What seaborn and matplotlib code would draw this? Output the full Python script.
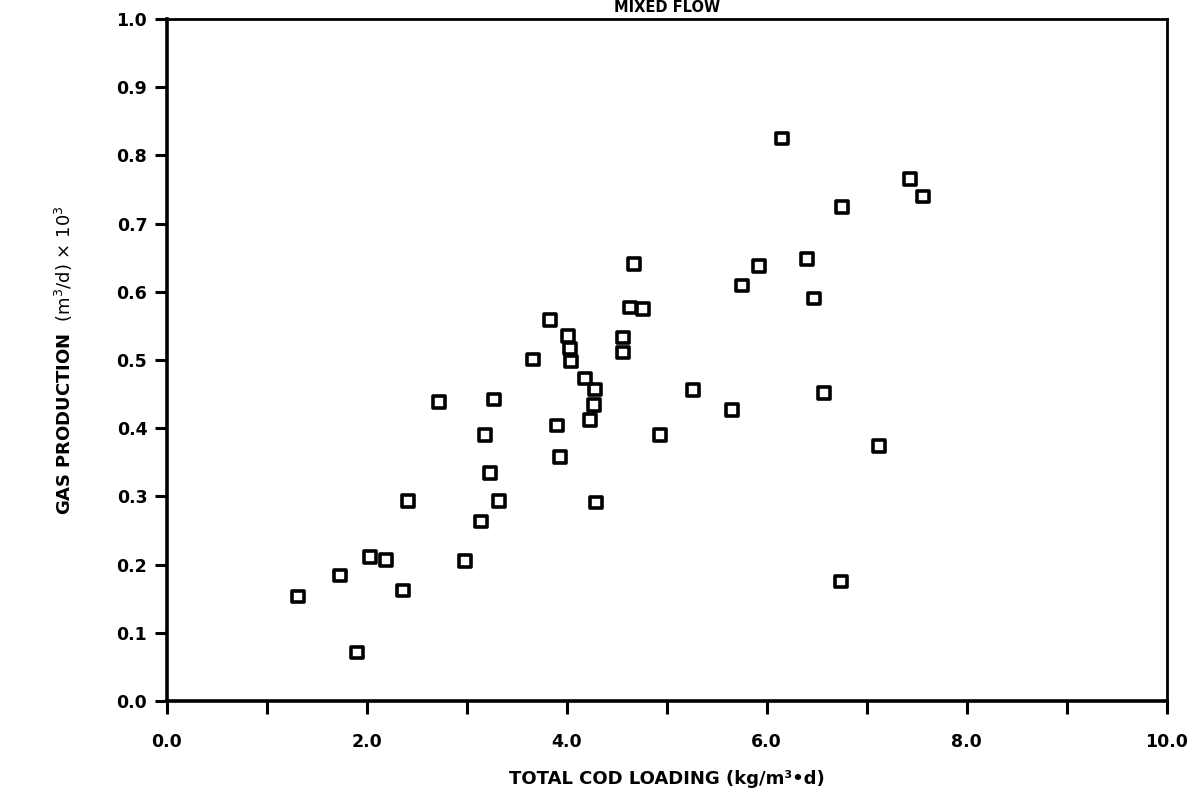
import matplotlib
matplotlib.use("Agg")
import matplotlib.pyplot as plt
import seaborn as sns
import pandas as pd

# Total COD loading (kg/m3.d) and gas production (m3/d x 10^3), mixed flow runs
cod_loading = [
    1.31, 1.73, 1.90, 2.03, 2.19, 2.36, 2.41, 2.72, 2.98, 3.14,
    3.18, 3.23, 3.27, 3.32, 3.66, 3.83, 3.90, 3.93, 4.01, 4.03,
    4.04, 4.18, 4.23, 4.27, 4.28, 4.29, 4.56, 4.56, 4.63, 4.67,
    4.76, 4.93, 5.26, 5.65, 5.75, 5.92, 6.15, 6.40, 6.47, 6.57,
    6.74, 6.75, 7.12, 7.43, 7.56,
]
gas_production = [
    0.153, 0.184, 0.071, 0.211, 0.207, 0.162, 0.293, 0.438, 0.205, 0.263,
    0.390, 0.334, 0.442, 0.293, 0.501, 0.559, 0.404, 0.358, 0.535, 0.517,
    0.498, 0.473, 0.412, 0.434, 0.457, 0.291, 0.533, 0.511, 0.577, 0.641,
    0.575, 0.390, 0.456, 0.427, 0.609, 0.638, 0.825, 0.648, 0.590, 0.452,
    0.175, 0.724, 0.374, 0.765, 0.740,
]

x_ticks = [0, 2, 4, 6, 8, 10]
x_minor = [1, 3, 5, 7, 9]
y_ticks = [0.0, 0.1, 0.2, 0.3, 0.4, 0.5, 0.6, 0.7, 0.8, 0.9, 1.0]

df = pd.DataFrame({"cod": cod_loading, "gas": gas_production})

sns.set_style("ticks")
plt.rcParams["font.family"] = ["DejaVu Sans"]
plt.rcParams["text.color"] = "black"
plt.rcParams["axes.labelcolor"] = "black"
plt.rcParams["xtick.color"] = "black"
plt.rcParams["ytick.color"] = "black"

fig = plt.figure(figsize=(12.03, 7.97), dpi=100)
ax = fig.add_axes([166.7 / 1203, 96 / 797, 1000 / 1203, 682 / 797])

sns.scatterplot(
    data=df, x="cod", y="gas", ax=ax,
    marker="s", s=70, facecolor="none", edgecolor="black", linewidth=2.6,
    legend=False, zorder=3,
)

ax.set_xlim(0, 10)
ax.set_ylim(0, 1.0)
ax.set_xticks(x_ticks)
ax.set_xticklabels([f"{v:.1f}" for v in x_ticks])
ax.set_xticks(x_minor, minor=True)
ax.set_yticks(y_ticks)
ax.set_yticklabels([f"{v:.1f}" for v in y_ticks])

for side in ["left", "bottom"]:
    ax.spines[side].set_linewidth(2.6)
for side in ["top", "right"]:
    ax.spines[side].set_visible(True)
    ax.spines[side].set_linewidth(2.0)
for sp in ax.spines.values():
    sp.set_color("black")

ax.tick_params(axis="both", which="both", direction="out", length=9,
               width=2.2, color="black", labelcolor="black")
ax.tick_params(axis="x", which="major", pad=14, labelsize=12.5)
ax.tick_params(axis="y", which="major", pad=5, labelsize=12.5)
for lbl in ax.get_xticklabels() + ax.get_yticklabels():
    lbl.set_fontweight("bold")

ax.set_xlabel("TOTAL COD LOADING (kg/m³•d)", fontsize=13, fontweight="bold",
              labelpad=14, color="black")
ax.set_ylabel(r"$\bf{GAS\ PRODUCTION}$  (m$^3$/d) $\times$ 10$^3$",
              fontsize=13, labelpad=30, color="black")

ax.text(0.5, 1.0 + 4 / 682, "MIXED FLOW", transform=ax.transAxes,
        ha="center", va="bottom", fontsize=10.5, fontweight="bold",
        color="black")

fig.savefig("out.png", dpi=100, facecolor="white")
